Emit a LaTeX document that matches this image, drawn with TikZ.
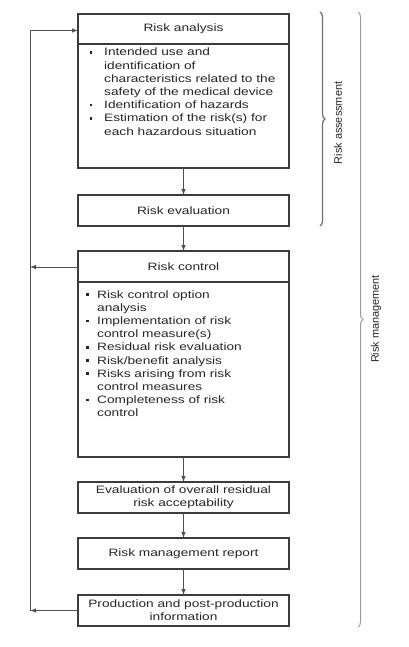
\documentclass[tikz,border=0pt]{standalone}
\usepackage{fontspec}
\setmainfont{Liberation Sans}[FakeStretch=1.28]
\newfontfamily\sidefont{Liberation Sans}
\usetikzlibrary{decorations.pathreplacing,arrows.meta}
\definecolor{boxc}{HTML}{3C3C3C}
\definecolor{linec}{HTML}{505050}
\definecolor{txtc}{HTML}{262626}
\definecolor{brc}{HTML}{707070}
\definecolor{brcb}{HTML}{9A9A9A}
\newcommand\blA{\makebox[14.5pt][l]{\raisebox{2.3pt}{\rule{2.6pt}{2.6pt}}}}
\newcommand\inA{\hspace*{14.5pt}}
\newcommand\blB{\makebox[11pt][l]{\raisebox{2.3pt}{\rule{2.6pt}{2.6pt}}}}
\newcommand\inB{\hspace*{11pt}}
\begin{document}
\begin{tikzpicture}[x=1pt,y=-1pt,
  box/.style={draw=boxc, line width=1.2pt, minimum width=211pt, inner sep=0pt, outer sep=0pt},
  lbl/.style={text=txtc, font=\fontsize{10.7}{13.2}\selectfont, inner sep=0pt, align=center},
  listtxt/.style={text=txtc, font=\fontsize{10.7}{13.2}\selectfont, inner sep=0pt, anchor=base west},
  arr/.style={draw=linec, line width=0.9pt, -{Latex[length=6pt,width=4.6pt]}},
  divider/.style={draw=boxc, line width=1.1pt},
  sidelbl/.style={text=txtc, font=\sidefont\fontsize{10.9}{13}\selectfont, rotate=90, inner sep=0pt}
]
\useasboundingbox (0,0) rectangle (408,647);
\fill[white] (0,0) rectangle (408,647);

% boxes
\node[box, minimum height=154pt] (ra) at (183.5,91) {};
\node[box, minimum height=31pt] (re) at (183.5,210.5) {};
\node[box, minimum height=206pt] (rc) at (183.5,354) {};
\node[box, minimum height=31pt] (eo) at (183.5,497.5) {};
\node[box, minimum height=31pt] (rm) at (183.5,553.5) {};
\node[box, minimum height=31pt] (pp) at (183.5,610.5) {};

% header dividers
\coordinate (d1) at (0,44);
\coordinate (d2) at (0,282);
\draw[divider] (ra.west |- d1) -- (ra.east |- d1);
\draw[divider] (rc.west |- d2) -- (rc.east |- d2);

% texts
\node[lbl] (rat) at (183.5,29) {Risk analysis};
\node[lbl] (ret) at (re) {Risk evaluation};
\node[lbl] (rct) at (183.5,266.5) {Risk control};
\node[lbl] (eot) at (eo) {Evaluation of overall residual\\risk acceptability};
\node[lbl] (rmt) at (rm) {Risk management report};
\node[lbl] (ppt) at (pp) {Production and post-production\\information};

\node[listtxt] (ral) at (89.5,56) {\parbox[t]{195pt}{\raggedright
\blA Intended use and\\
\inA identification of\\
\inA characteristics related to the\\
\inA safety of the medical device\\
\blA Identification of hazards\\
\blA Estimation of the risk(s) for\\
\inA each hazardous situation}};

\node[listtxt] (rcl) at (86,298) {\parbox[t]{195pt}{\raggedright
\blB Risk control option\\
\inB analysis\\
\blB Implementation of risk\\
\inB control measure(s)\\
\blB Residual risk evaluation\\
\blB Risk/benefit analysis\\
\blB Risks arising from risk\\
\inB control measures\\
\blB Completeness of risk\\
\inB control}};

% main flow
\draw[arr] (ra) -- (re);
\draw[arr] (re) -- (rc);
\draw[arr] (rc) -- (eo);
\draw[arr] (eo) -- (rm);
\draw[arr] (rm) -- (pp);

% feedback loop
\coordinate (lb) at (30,610.5);
\coordinate (lt) at (30,30.5);
\coordinate (lm) at (30,267);
\draw[arr] (pp.west) -- (lb);
\draw[arr] (rc.west |- lm) -- (lm);
\draw[arr] (lb) -- (lt) -- (ra.west |- lt);

% braces
\coordinate (b1t) at (320,12);
\coordinate (b1b) at (320,226);
\coordinate (b2t) at (358,12);
\coordinate (b2b) at (358,627);
\draw[draw=brc, line width=1.3pt, decorate, decoration={brace, amplitude=5pt}] (b1t) -- (b1b);
\draw[draw=brcb, line width=1pt, decorate, decoration={brace, amplitude=5pt}] (b2t) -- (b2b);
\node[sidelbl] (ras) at (338,123) {Risk assessment};
\node[sidelbl] (rmg) at (376,319) {Risk management};
\end{tikzpicture}
\end{document}
